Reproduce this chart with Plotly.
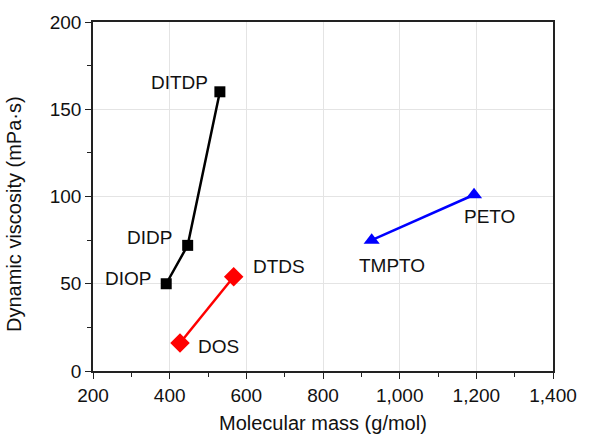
import plotly.graph_objects as go

# Phthalates (squares, black)
phth_names = ["DIOP", "DIDP", "DITDP"]
phth_mass = [391, 447, 531]
phth_visc = [50, 72, 160]

# Sebacates (diamonds, red)
seb_names = ["DOS", "DTDS"]
seb_mass = [427, 567]
seb_visc = [16, 54]

# Polyol esters (triangles, blue)
poe_names = ["TMPTO", "PETO"]
poe_mass = [927, 1194]
poe_visc = [75, 101]

x_ticks = [200, 400, 600, 800, 1000, 1200, 1400]
y_ticks = [0, 50, 100, 150, 200]

FONT = "Liberation Sans, Arial, sans-serif"
BLACK = "#111"

# label offsets (px) from each marker
label_shift = {
    "DIOP": (-38, 5), "DIDP": (-38, 8), "DITDP": (-40, 9),
    "DOS": (38, -3), "DTDS": (45, 10),
    "TMPTO": (20, -25), "PETO": (15, -22),
}

fig = go.Figure()

series = [
    (phth_mass, phth_visc, phth_names, "black", "square", 11),
    (seb_mass, seb_visc, seb_names, "#ff0000", "diamond", 15),
    (poe_mass, poe_visc, poe_names, "#0000ff", "triangle-up", 14),
]

for xs, ys, names, col, sym, size in series:
    fig.add_trace(go.Scatter(
        x=xs, y=ys, mode="lines+markers",
        line=dict(color=col, width=2.5),
        marker=dict(color=col, symbol=sym, size=size),
        showlegend=False, cliponaxis=False,
    ))
    for x, y, n in zip(xs, ys, names):
        dx, dy = label_shift[n]
        fig.add_annotation(
            x=x, y=y, text=n, showarrow=False,
            xshift=dx, yshift=dy,
            font=dict(family=FONT, size=19, color=BLACK),
        )

axis_common = dict(
    showline=True, linecolor="#222", linewidth=1.5, mirror=True,
    ticks="outside", ticklen=6, tickwidth=1.2, tickcolor="#222",
    showgrid=True, gridcolor="#e4e4e4", gridwidth=1,
    zeroline=False,
    tickfont=dict(family=FONT, size=19, color=BLACK),
    minor=dict(ticks="outside", ticklen=4, tickcolor="#222", showgrid=False),
)

fig.update_xaxes(range=[200, 1400], tickvals=x_ticks, tickformat=",",
                 minor_dtick=100, **axis_common)
fig.update_yaxes(range=[0, 200], tickvals=y_ticks, minor_dtick=25,
                 **axis_common)

# axis titles
fig.add_annotation(
    text="Molecular mass (g/mol)", xref="paper", yref="paper",
    x=0.5, y=-0.148, xanchor="center", yanchor="middle", showarrow=False,
    font=dict(family=FONT, size=20, color=BLACK),
)
fig.add_annotation(
    text="Dynamic viscosity (mPa·s)", xref="paper", yref="paper",
    x=0, xshift=-79, y=0.45, xanchor="center", yanchor="middle",
    textangle=-90, showarrow=False,
    font=dict(family=FONT, size=20, color=BLACK),
)

fig.update_layout(
    width=589, height=436,
    margin=dict(l=93, r=25, t=19, b=65),
    plot_bgcolor="white", paper_bgcolor="white",
    font=dict(family=FONT),
)

fig.write_html("out.html")
